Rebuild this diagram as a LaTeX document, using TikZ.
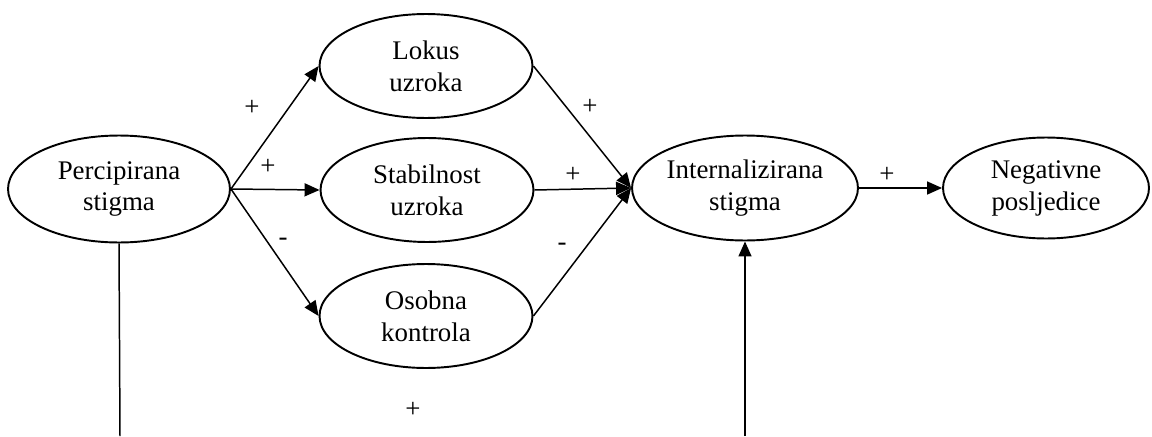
\documentclass[tikz,border=0pt]{standalone}
\usepackage{fontspec}
\setmainfont{Liberation Serif}
\usepackage{tikz}
\usetikzlibrary{positioning, shapes.geometric, arrows.meta}
\tikzset{
    base/.style={
        font=\fontsize{15.3}{18.2}\selectfont,
        align=center
    },
    factor/.style={
        base,
        ellipse,
        draw=black,
        line width=1.1pt,
        fill=white,
        inner sep=0pt,
        minimum width=4.26cm,
        minimum height=2.08cm
    },
    flow/.style={
        -{Triangle[length=0.3cm, width=0.26cm]},
        line width=0.85pt,
        color=black
    },
    link/.style={
        line width=0.85pt,
        color=black
    },
    sign/.style={
        base,
        inner sep=1pt
    }
}

\begin{document}
\begin{tikzpicture}[x=0.02cm, y=-0.02cm]
    % Frame
    \useasboundingbox (0,0) rectangle (1152,436);

    % Factors
    \node[factor, minimum width=4.44cm, minimum height=2.14cm] (perc) at (119,189) {Percipirana\\stigma};
    \node[factor] (lokus) at (426,66) {Lokus\\uzroka};
    \node[factor] (stab) at (427,190) {Stabilnost\\uzroka};
    \node[factor] (osob) at (426,316) {Osobna\\kontrola};
    \node[factor, minimum width=4.52cm, minimum height=2.1cm] (intern) at (745,188) {Internalizirana\\stigma};
    \node[factor, minimum width=4.12cm, minimum height=2.02cm] (neg) at (1046,188) {Negativne\\posljedice};

    % Loose ends at the bottom
    \coordinate (percDown) at (120,436);
    \coordinate (internDown) at (745,436);

    % Paths
    \draw[flow] (perc.east) -- (lokus.west);
    \draw[flow] (perc.east) -- (stab.west);
    \draw[flow] (perc.east) -- (osob.west);
    \draw[flow] (lokus.east) -- (intern.west);
    \draw[flow] (stab.east) -- (intern.west);
    \draw[flow] (osob.east) -- (intern.west);
    \draw[flow] (intern.east) -- (neg.west);
    \draw[link] (perc.south) -- (percDown);
    \draw[flow] (internDown) -- (intern.south);

    % Signs
    \node[sign] (sPL) at (252,108) {+};
    \node[sign] (sPS) at (268,167) {+};
    \node[sign] (sPO) at (283,242) {-};
    \node[sign] (sLI) at (590,107) {+};
    \node[sign] (sSI) at (573,175) {+};
    \node[sign] (sOI) at (562,247) {-};
    \node[sign] (sIN) at (887,175) {+};
    \node[sign] (sPI) at (413,410) {+};
\end{tikzpicture}
\end{document}
